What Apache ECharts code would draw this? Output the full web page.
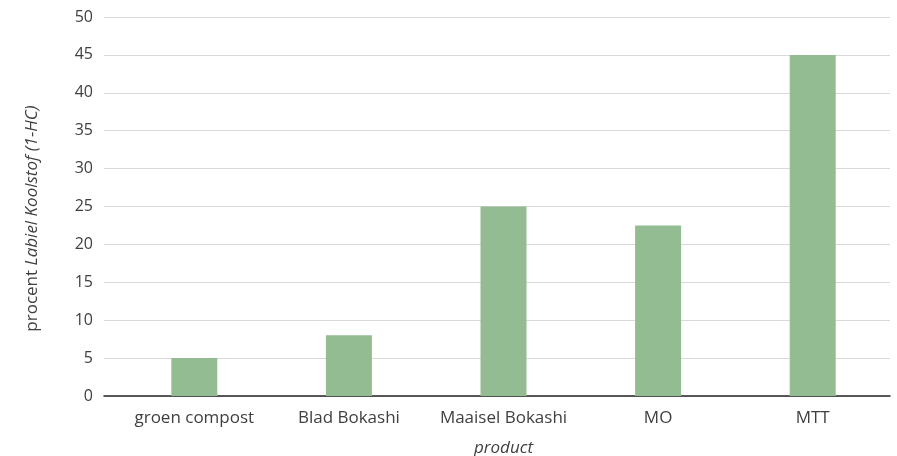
<!DOCTYPE html>
<html><head><meta charset="utf-8">
<script src="https://cdn.jsdelivr.net/npm/echarts@6/dist/echarts.min.js"></script>
<style>html,body{margin:0;padding:0;background:#fff}#c{width:897px;height:456px}</style>
</head><body><div id="c"></div>
<script>
const categories = ['groen compost', 'Blad Bokashi', 'Maaisel Bokashi', 'MO', 'MTT'];
const values = [5, 8, 25, 22.5, 45];
const yMin = 0, yMax = 50, yStep = 5;

const font = '"Open Sans", "Noto Sans", sans-serif';
const txt = '#404040';
const chart = echarts.init(document.getElementById('c'), null, {renderer: 'canvas'});
chart.setOption({
  animation: false,
  backgroundColor: '#fff',
  grid: [
    {left: 104, right: 7, top: 17, bottom: 60, outerBoundsMode: 'none', containLabel: false},
    {left: 117, right: 7, top: 17, bottom: 60, outerBoundsMode: 'none', containLabel: false}
  ],
  xAxis: [
    {gridIndex: 0, type: 'category', data: categories,
     axisLine: {show: true, lineStyle: {color: '#262626', width: 1.5}},
     axisTick: {show: false}, axisLabel: {show: false}},
    {gridIndex: 1, type: 'category', data: categories,
     axisLine: {show: false}, axisTick: {show: false},
     axisLabel: {color: txt, fontSize: 17, fontFamily: font, margin: 14, interval: 0, hideOverlap: false},
     name: 'product', nameLocation: 'middle', nameGap: 44,
     nameTextStyle: {color: txt, fontSize: 17, fontFamily: font, fontStyle: 'italic'}}
  ],
  yAxis: [
    {gridIndex: 0, type: 'value', min: yMin, max: yMax, interval: yStep,
     axisLine: {show: false}, axisTick: {show: false},
     axisLabel: {color: txt, fontSize: 16, fontFamily: font, margin: 11},
     splitLine: {lineStyle: {color: '#d9d9d9', width: 1}},
     name: 'procent {i|Labiel Koolstof (1-HC)}', nameLocation: 'middle', nameGap: 63, nameRotate: 90,
     nameTextStyle: {color: txt, fontSize: 17, fontFamily: font, padding: [0, 0, 0, -24],
       rich: {i: {fontStyle: 'italic', color: txt, fontSize: 17, fontFamily: font}}}},
    {gridIndex: 1, type: 'value', min: yMin, max: yMax, interval: yStep, show: false,
     splitLine: {show: false}}
  ],
  series: [{
    type: 'bar', xAxisIndex: 1, yAxisIndex: 1, data: values, barWidth: 46,
    itemStyle: {color: '#93bc92'}, z: 1
  }]
});
</script></body></html>
